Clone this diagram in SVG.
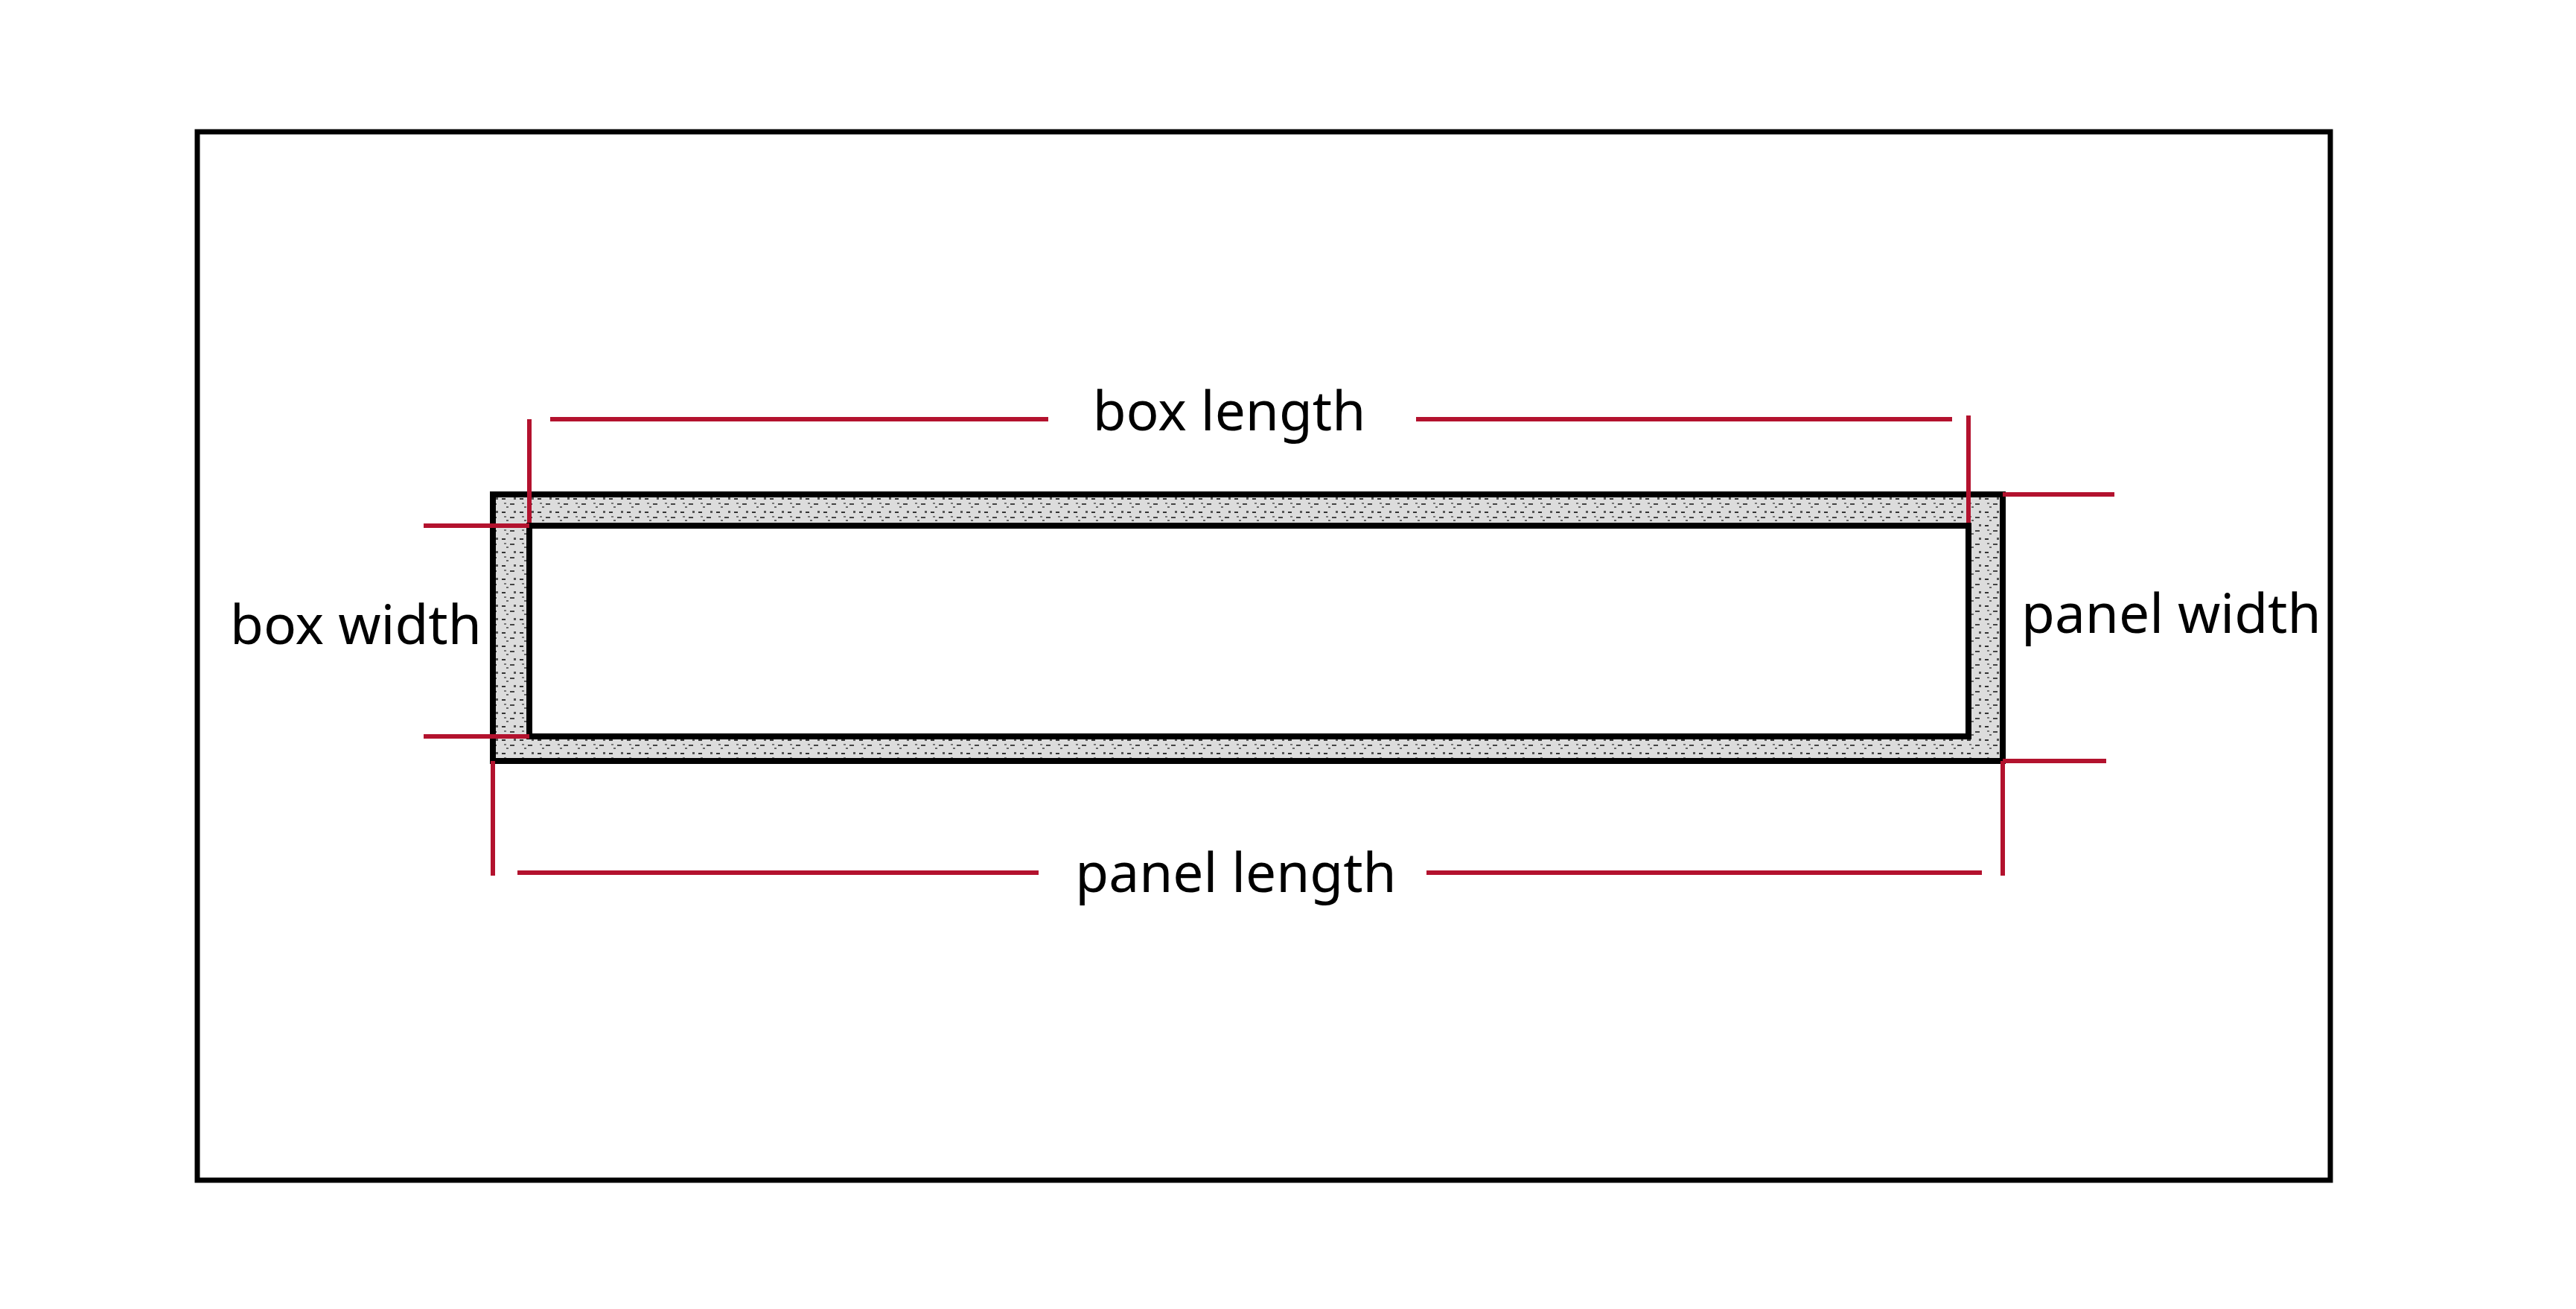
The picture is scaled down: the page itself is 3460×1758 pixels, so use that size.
<svg xmlns="http://www.w3.org/2000/svg" width="3460" height="1758" viewBox="0 0 3460 1758">
<style>
.r{stroke:#b3122e;stroke-width:6;fill:none}
.k{stroke:#000;stroke-width:8}
.t{font-family:"Noto Sans","Open Sans",sans-serif;font-size:73px;fill:#000}
</style>
<defs>
<pattern id="sp" width="24" height="18" patternUnits="userSpaceOnUse">
<rect width="24" height="18" fill="#dcdcdc"/>
<rect x="2" y="3" width="5" height="2" fill="#333"/>
<rect x="13" y="10" width="6" height="2" fill="#444"/>
<rect x="8" y="14" width="3" height="2" fill="#666"/>
<rect x="18" y="2" width="3" height="3" fill="#555"/>
<rect x="5" y="9" width="3" height="2" fill="#777"/>
</pattern>
</defs>
<rect width="3460" height="1758" fill="#fff"/>
<rect x="265" y="177" width="2865" height="1408" fill="none" stroke="#000" stroke-width="7"/>
<g id="panel">
<rect x="662" y="664" width="2028" height="358" fill="url(#sp)" class="k"/>
<rect x="711" y="706" width="1933" height="283" fill="#fff" class="k"/>
</g>
<g id="connectors">
<path class="r" d="M711 563V702M739 563H1408M1902 563H2622M2644 558V702"/>
<path class="r" d="M569 706H711M569 989H711"/>
<path class="r" d="M2690 664H2840M2690 1022H2829"/>
<path class="r" d="M662 1022V1176M2690 1022V1176M695 1172H1395M1916 1172H2662"/>
</g>
<g id="labels">
<text class="t" x="1651" y="578" text-anchor="middle">box length</text>
<text class="t" x="309" y="865">box width</text>
<text class="t" x="2715" y="850">panel width</text>
<text class="t" x="1660" y="1198" text-anchor="middle">panel length</text>
</g>
</svg>
